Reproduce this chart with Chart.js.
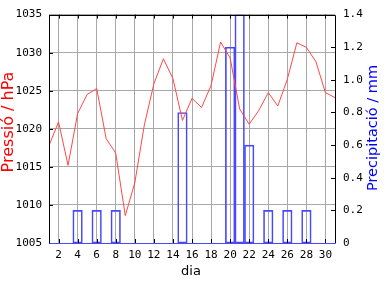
<!DOCTYPE html>
<html>
<head>
<meta charset="utf-8">
<script src="https://cdn.jsdelivr.net/npm/chart.js@4"></script>
<style>
  body { margin: 0; background: #fff; }
  canvas { display: block; }
</style>
</head>
<body>
<canvas id="grafic" width="384" height="288"></canvas>
<script>
// dades del mes
const dies = [1, 2, 3, 4, 5, 6, 7, 8, 9, 10, 11, 12, 13, 14, 15, 16, 17, 18, 19, 20, 21, 22, 23, 24, 25, 26, 27, 28, 29, 30, 31];
const pressio = [1017.8, 1020.9, 1015.2, 1022.0, 1024.5, 1025.3, 1018.7, 1016.8, 1008.6, 1012.9,
                 1020.5, 1025.9, 1029.2, 1026.6, 1021.1, 1024.0, 1022.8, 1025.7, 1031.4, 1029.3,
                 1022.6, 1020.6, 1022.4, 1024.75, 1023.0, 1026.5, 1031.3, 1030.7, 1028.8, 1024.75, 1024.1];
const precipitacio = [0, 0, 0, 0.2, 0, 0.2, 0, 0.2, 0, 0,
                      0, 0, 0, 0, 0.8, 0, 0, 0, 0, 1.2,
                      1.4, 0.6, 0, 0.2, 0, 0.2, 0, 0.2, 0, 0, 0];
const ticsDia = [2, 4, 6, 8, 10, 12, 14, 16, 18, 20, 22, 24, 26, 28, 30];

const vermell = '#ff4848';
const blau = '#4848ff';
const gris = '#a8a8a8';
const fontTics = { family: 'DejaVu Sans Mono', size: 11 };

// marc, marques interiors i titols dels eixos
const marcPlugin = {
  id: 'marc',
  afterDatasetsDraw(chart) {
    const ctx = chart.ctx;
    const a = chart.chartArea;
    const x = chart.scales.x, y = chart.scales.y, y2 = chart.scales.y2;
    ctx.save();
    ctx.lineWidth = 1;
    ctx.strokeStyle = '#000';
    ctx.beginPath();
    x.ticks.forEach(t => {
      const px = Math.round(x.getPixelForValue(t.value)) + 0.5;
      ctx.moveTo(px, a.bottom); ctx.lineTo(px, a.bottom - 4);
      ctx.moveTo(px, a.top); ctx.lineTo(px, a.top + 4);
    });
    y.ticks.forEach(t => {
      const py = Math.round(y.getPixelForValue(t.value)) + 0.5;
      ctx.moveTo(a.left, py); ctx.lineTo(a.left + 4, py);
    });
    y2.ticks.forEach(t => {
      const py = Math.round(y2.getPixelForValue(t.value)) + 0.5;
      ctx.moveTo(a.right, py); ctx.lineTo(a.right - 4, py);
    });
    const l = Math.round(a.left) + 0.5, r = Math.round(a.right) + 0.5;
    const tp = Math.round(a.top) + 0.5, b = Math.round(a.bottom) + 0.5;
    ctx.moveTo(l, b); ctx.lineTo(l, tp); ctx.lineTo(r, tp); ctx.lineTo(r, b);
    ctx.stroke();
    ctx.strokeStyle = blau;
    ctx.beginPath();
    ctx.moveTo(l, b); ctx.lineTo(r, b);
    ctx.stroke();

    ctx.textAlign = 'center';
    ctx.textBaseline = 'middle';
    ctx.fillStyle = '#000';
    ctx.font = '13px "DejaVu Sans"';
    ctx.fillText('dia', 191, 272);

    ctx.save();
    ctx.translate(9, 122);
    ctx.rotate(-Math.PI / 2);
    ctx.fillStyle = '#ff0000';
    ctx.font = '16px "DejaVu Sans"';
    ctx.fillText('Pressió / hPa', 0, 0);
    ctx.restore();

    ctx.save();
    ctx.translate(373, 128);
    ctx.rotate(-Math.PI / 2);
    ctx.fillStyle = '#0000ff';
    ctx.font = '14.5px "DejaVu Sans"';
    ctx.fillText('Precipitació / mm', 0, 0);
    ctx.restore();
    ctx.restore();
  }
};

new Chart(document.getElementById('grafic'), {
  type: 'bar',
  data: {
    datasets: [
      {
        type: 'line',
        data: dies.map((d, i) => ({ x: d, y: pressio[i] })),
        borderColor: vermell,
        borderWidth: 1,
        pointRadius: 0,
        tension: 0,
        yAxisID: 'y',
        order: 0
      },
      {
        type: 'bar',
        data: dies.map((d, i) => ({ x: d, y: precipitacio[i] })),
        backgroundColor: 'rgba(0,0,0,0)',
        borderColor: blau,
        borderWidth: 1,
        borderSkipped: false,
        barPercentage: 1,
        categoryPercentage: 1,
        yAxisID: 'y2',
        order: 1
      }
    ]
  },
  options: {
    responsive: false,
    animation: false,
    layout: { padding: { top: 14, left: 0, right: 0, bottom: 0 } },
    plugins: {
      legend: { display: false },
      tooltip: { enabled: false }
    },
    scales: {
      x: {
        type: 'linear',
        offset: false,
        min: 1,
        max: 31,
        afterBuildTicks: scale => { scale.ticks = ticsDia.map(v => ({ value: v })); },
        afterFit: scale => { scale.height = 45; },
        grid: { color: gris, drawTicks: false, offset: false },
        border: { display: false },
        ticks: { font: fontTics, color: '#000', padding: 6, maxRotation: 0, autoSkip: false }
      },
      y: {
        position: 'left',
        min: 1005,
        max: 1035,
        afterFit: scale => { scale.width = 49; },
        grid: { color: gris, drawTicks: false },
        border: { display: false },
        ticks: { stepSize: 5, font: fontTics, color: '#000', padding: 7, callback: v => String(v) }
      },
      y2: {
        position: 'right',
        min: 0,
        max: 1.4,
        afterFit: scale => { scale.width = 49; },
        grid: { display: false, drawTicks: false },
        border: { display: false },
        ticks: { stepSize: 0.2, font: fontTics, color: '#000', padding: 8 }
      }
    }
  },
  plugins: [marcPlugin]
});
</script>
</body>
</html>
